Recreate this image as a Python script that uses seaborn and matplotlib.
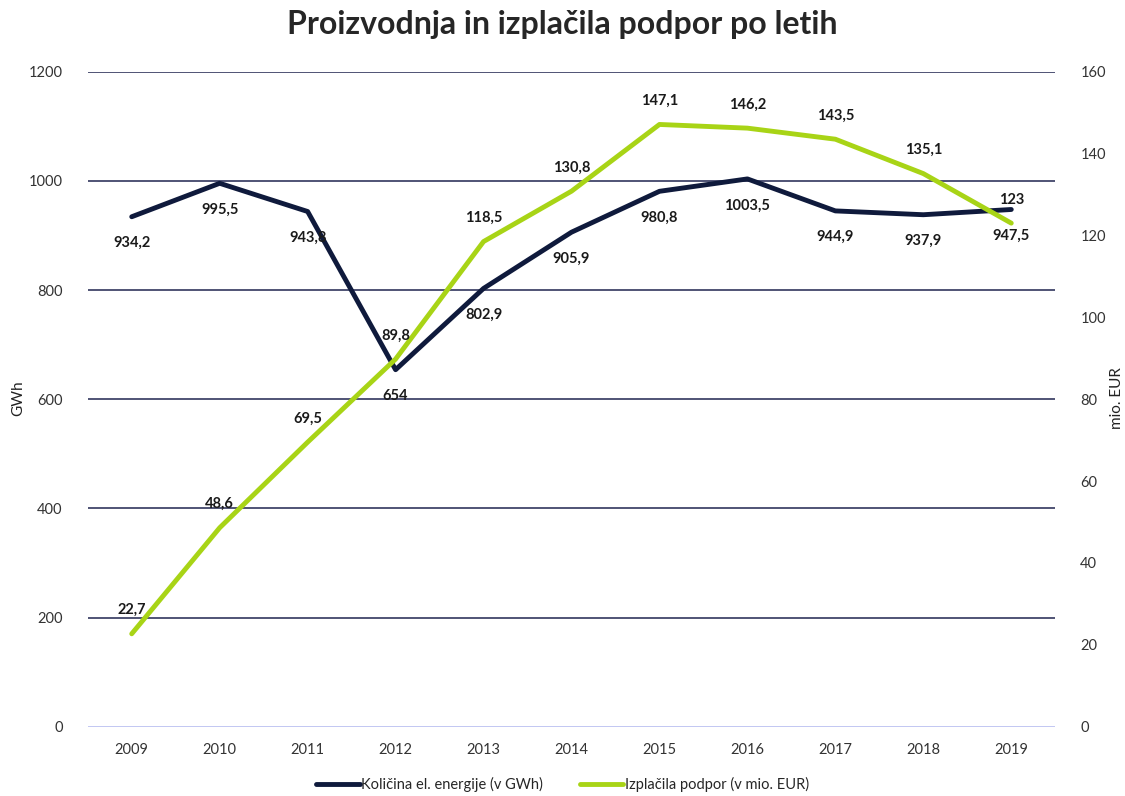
import numpy as np
import matplotlib.pyplot as plt
import seaborn as sns
import pandas as pd

sns.set_style("white")
plt.rcParams['font.family'] = ['Lato', 'DejaVu Sans']

# Podatki
leta = ['2009', '2010', '2011', '2012', '2013', '2014', '2015', '2016', '2017', '2018', '2019']
energija = [934.2, 995.5, 943.8, 654, 802.9, 905.9, 980.8, 1003.5, 944.9, 937.9, 947.5]
podpore = [22.7, 48.6, 69.5, 89.8, 118.5, 130.8, 147.1, 146.2, 143.5, 135.1, 123]

modra = '#0f1a3c'
zelena = '#a8d416'

df = pd.DataFrame({'Leto': leta, 'Energija': energija, 'Podpore': podpore})
x = np.arange(len(leta))

fig, ax = plt.subplots(figsize=(11.25, 7.96), dpi=100)
ax2 = ax.twinx()

sns.lineplot(x=x, y=df['Energija'], ax=ax, color=modra, lw=3.5, label='Količina el. energije (v GWh)', legend=False)
sns.lineplot(x=x, y=df['Podpore'], ax=ax2, color=zelena, lw=3.5, label='Izplačila podpor (v mio. EUR)', legend=False)

def fmt(v):
    s = f'{v:.1f}'.replace('.', ',')
    return s[:-2] if s.endswith(',0') else s

for i, v in enumerate(energija):
    ax.annotate(fmt(v), (x[i], v), xytext=(0, -19), textcoords='offset points',
                ha='center', va='center', fontsize=10.5, fontweight='bold', color='#1a1a1a')
for i, v in enumerate(podpore):
    ax2.annotate(fmt(v), (x[i], v), xytext=(0, 17), textcoords='offset points',
                 ha='center', va='center', fontsize=10.5, fontweight='bold', color='#1a1a1a')

ax.set_xlim(-0.5, len(leta) - 0.5)
ax.set_ylim(0, 1200)
ax2.set_ylim(0, 160)
ax.set_yticks(range(0, 1201, 200))
ax2.set_yticks(range(0, 161, 20))
ax.set_xticks(x)
ax.set_xticklabels(leta)

# mreža
for y in range(200, 1201, 200):
    ax.axhline(y, color='#1f2550', lw=1.1, zorder=0)
ax.axhline(0, color='#b8bdf0', lw=1.2, zorder=0)

for a in (ax, ax2):
    for s in a.spines.values():
        s.set_visible(False)
    a.tick_params(length=0, labelsize=10.5, colors='#333333')
ax.tick_params(axis='x', pad=12)
ax.tick_params(axis='y', pad=18)
ax2.tick_params(axis='y', pad=18)

ax.set_ylabel('')
ax2.set_ylabel('')
ax.set_xlabel('')
fig.text(0.016, 0.5, 'GWh', rotation=90, ha='center', va='center', fontsize=11, color='#222222')
fig.text(0.993, 0.5, 'mio. EUR', rotation=90, ha='center', va='center', fontsize=11, color='#222222')

fig.suptitle('Proizvodnja in izplačila podpor po letih', fontsize=23, fontweight='bold', y=0.988)

h1, l1 = ax.get_legend_handles_labels()
h2, l2 = ax2.get_legend_handles_labels()
fig.legend(h1 + h2, l1 + l2, loc='lower center', ncol=2, frameon=False, fontsize=10.5,
           bbox_to_anchor=(0.5, -0.012), handlelength=3, columnspacing=2.5, handletextpad=0.1)

plt.subplots_adjust(left=0.078, right=0.938, top=0.91, bottom=0.087)
plt.savefig('out.png', dpi=100)
